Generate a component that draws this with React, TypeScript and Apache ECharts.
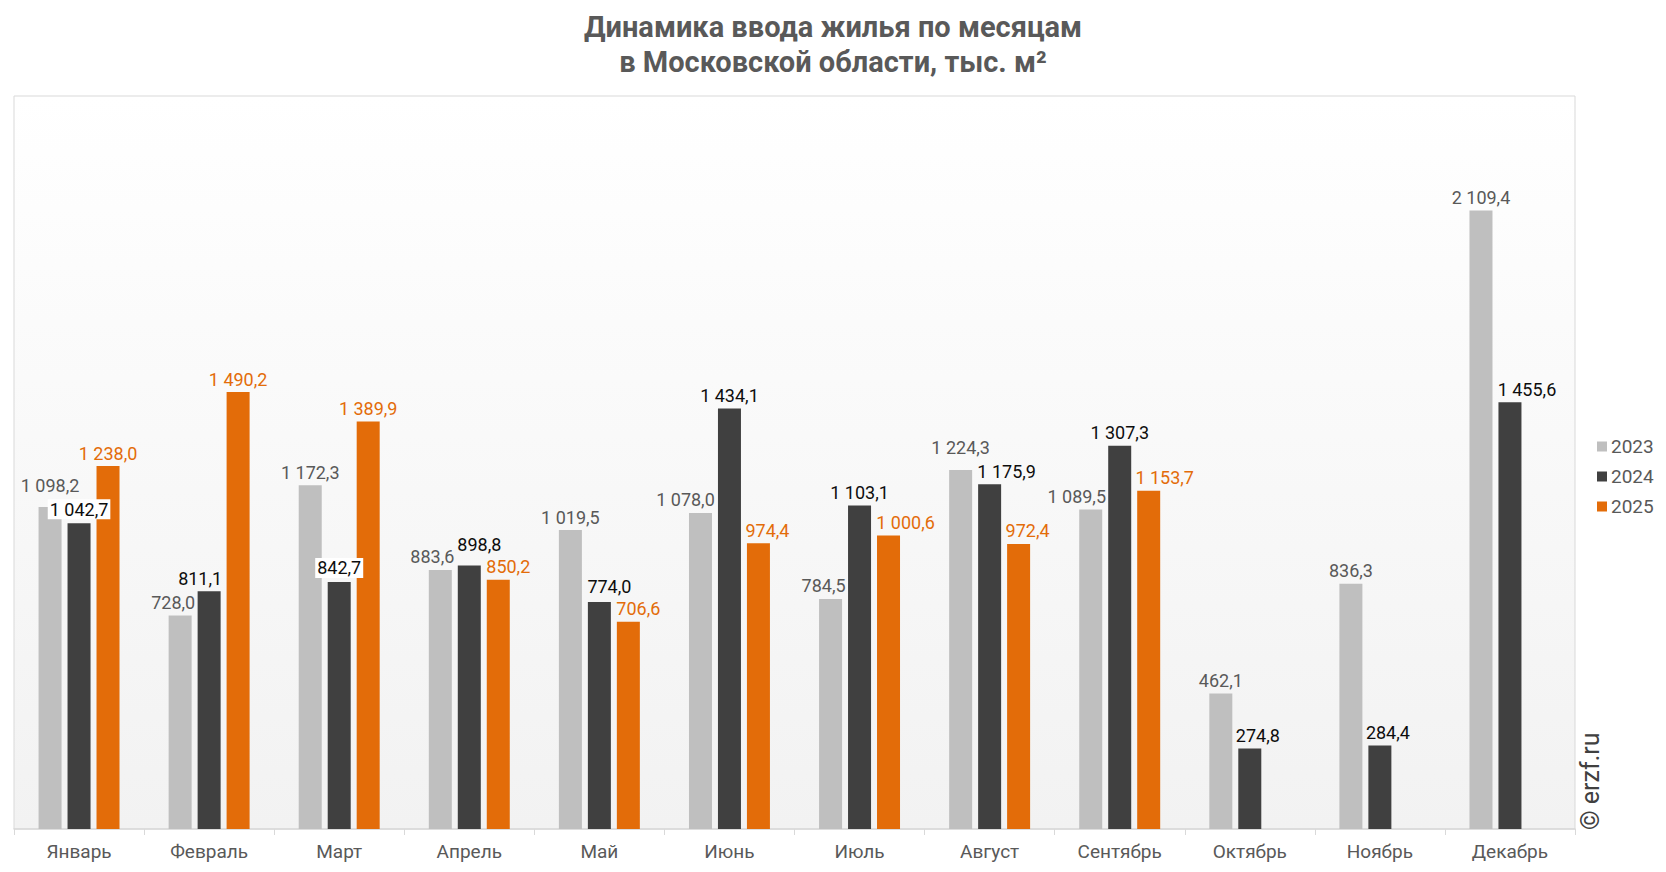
import React, { useEffect, useRef } from "react";
import * as echarts from "echarts";

const months = [
  "Январь", "Февраль", "Март", "Апрель", "Май", "Июнь",
  "Июль", "Август", "Сентябрь", "Октябрь", "Ноябрь", "Декабрь",
];
const years = ["2023", "2024", "2025"];
const values2023 = [1098.2, 728.0, 1172.3, 883.6, 1019.5, 1078.0, 784.5, 1224.3, 1089.5, 462.1, 836.3, 2109.4];
const values2024 = [1042.7, 811.1, 842.7, 898.8, 774.0, 1434.1, 1103.1, 1175.9, 1307.3, 274.8, 284.4, 1455.6];
const values2025 = [1238.0, 1490.2, 1389.9, 850.2, 706.6, 974.4, 1000.6, 972.4, 1153.7, null, null, null];

// label nudges, like the hand-placed labels of the original
const shift2023: [number, number][] = [[0, -9], [-7, 0], [0, 0], [-8, 0], [0, 0], [-15, 0], [-7, 0], [0, -10], [-14, 0], [0, 0], [0, 0], [0, 0]];
const shift2024: [number, number][] = [[0, 0], [-9, 0], [0, 0], [10, -8], [10, -3], [0, 0], [0, 0], [17, 0], [0, 0], [8, 0], [8, 0], [17, 0]];
const shift2025: [number, number][] = [[0, 0], [0, 0], [0, 0], [10, 0], [10, 0], [9, 0], [17, 0], [9, 0], [16, 0], [0, 0], [0, 0], [0, 0]];
const boxed2024 = [0, 2];

const colors = ["#bfbfbf", "#404040", "#e36c09"];
const labelColors = ["#595959", "#0d0d0d", "#e36c09"];

const fmt = (v: number) => {
  const [i, d] = v.toFixed(1).split(".");
  return i.replace(/\B(?=(\d{3})+(?!\d))/g, " ") + "," + d;
};

const App: React.FC = () => {
  const chartRef = useRef<HTMLDivElement>(null);

  useEffect(() => {
    if (!chartRef.current) return;
    const chart = echarts.init(chartRef.current, null, { renderer: "svg" });

    const makeSeries = (idx: number, vals: (number | null)[], shifts: [number, number][], boxed: number[] = []) => ({
      name: years[idx],
      type: "bar" as const,
      barWidth: 23,
      barGap: "26%",
      itemStyle: { color: colors[idx] },
      label: {
        show: true,
        position: "top" as const,
        distance: 4,
        color: labelColors[idx],
        fontSize: 18,
        fontFamily: "Roboto",
        formatter: (p: any) => (p.value == null ? "" : fmt(p.value)),
      },
      data: vals.map((v, i) => ({
        value: v,
        label: boxed.includes(i)
          ? { offset: shifts[i], backgroundColor: "#ffffff", padding: [1, 2] }
          : { offset: shifts[i] },
      })),
    });

    const option: echarts.EChartsOption = {
      animation: false,
      backgroundColor: "#ffffff",
      textStyle: { fontFamily: "Roboto" },
      title: {
        text: "Динамика ввода жилья по месяцам\nв Московской области, тыс. м²",
        left: "center",
        top: 0,
        padding: [9, 5],
        textStyle: {
          fontSize: 29,
          fontWeight: "bold",
          color: "#595959",
          fontFamily: "Roboto",
          lineHeight: 35,
        },
      },
      legend: {
        orient: "vertical",
        left: 1592,
        top: 432,
        icon: "rect",
        itemWidth: 10,
        itemHeight: 10,
        itemGap: 11,
        data: years,
        textStyle: { fontSize: 19, color: "#595959", fontFamily: "Roboto", padding: [0, 0, 0, -1] },
      },
      grid: {
        left: 14,
        right: 91,
        top: 96,
        bottom: 43,
        show: true,
        borderColor: "#d9d9d9",
        borderWidth: 1,
        backgroundColor: new echarts.graphic.LinearGradient(0, 0, 0, 1, [
          { offset: 0, color: "#ffffff" },
          { offset: 1, color: "#f2f2f2" },
        ]) as any,
      },
      xAxis: {
        type: "category",
        data: months,
        axisLine: { lineStyle: { color: "#d9d9d9", width: 1.5 } },
        axisTick: { show: true, length: 6, lineStyle: { color: "#d9d9d9" } },
        axisLabel: { color: "#595959", fontSize: 19, margin: 13, fontFamily: "Roboto" },
      },
      yAxis: {
        type: "value",
        min: 0,
        max: 2500,
        show: false,
        splitLine: { show: false },
      },
      graphic: [
        {
          type: "text",
          x: 1590,
          y: 830,
          rotation: Math.PI / 2,
          style: {
            text: "© erzf.ru",
            fontSize: 25,
            fontFamily: "Roboto",
            fill: "#404040",
            textAlign: "left",
            textVerticalAlign: "middle",
          } as any,
        },
      ],
      series: [
        makeSeries(0, values2023, shift2023),
        makeSeries(1, values2024, shift2024, boxed2024),
        makeSeries(2, values2025, shift2025),
      ] as any,
    };

    chart.setOption(option);
    return () => {
      chart.dispose();
    };
  }, []);

  return (
    <div
      ref={chartRef}
      style={{ position: "fixed", left: 0, top: 0, width: "1666px", height: "872px" }}
    />
  );
};

export default App;
